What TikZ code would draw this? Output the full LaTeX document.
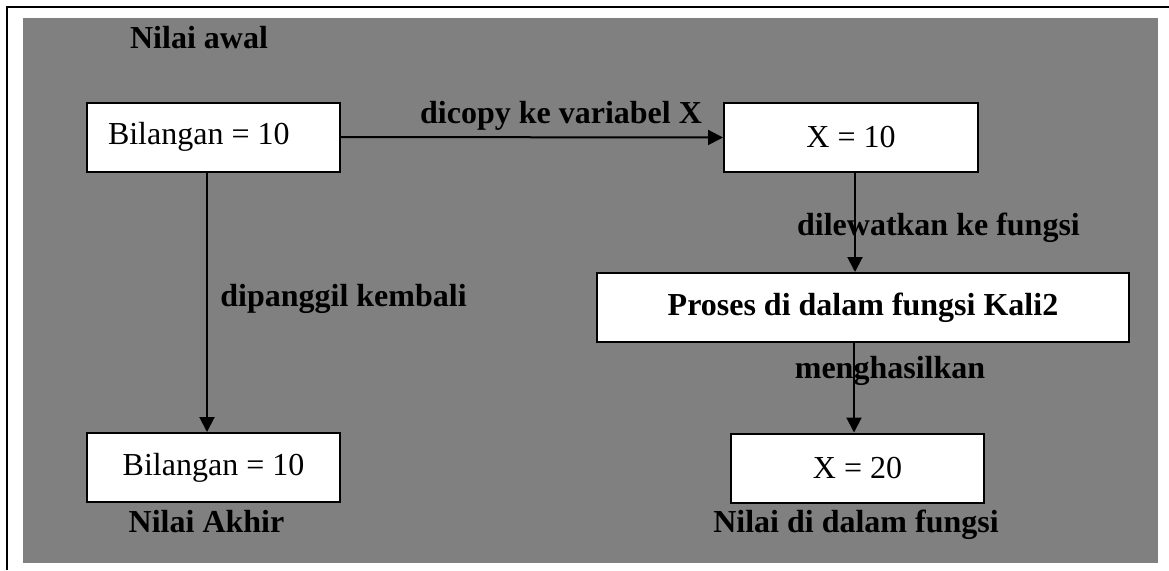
\documentclass[tikz,border=0pt]{standalone}
\usepackage{fontspec}
\setmainfont{Liberation Serif}
\usetikzlibrary{arrows.meta}

\begin{document}
\begin{tikzpicture}[
  x=1pt, y=-1pt,
  font=\fontsize{32}{38}\selectfont,
  value box/.style={draw, line width=2pt, fill=white, inner sep=0pt,
    minimum width=#1, minimum height=69pt},
  value box/.default=253pt,
  flow label/.style={anchor=base, font=\fontsize{32}{38}\selectfont\bfseries},
  flow arrow/.style={line width=2pt, -{Triangle[length=15pt,width=15pt]}},
]
% latar belakang
\useasboundingbox (0,0) rectangle (1169,570);
\fill[gray] (23,18) rectangle (1158,563);
\draw[line width=2pt] (7,570) -- (7,7) -- (1169,7);

% kotak nilai
\node[value box, inner xsep=21pt] (awal) at (213.5,137) {\makebox[211pt][l]{Bilangan = 10}};
\node[value box=254pt] (xcopy) at (851,137.5) {X = 10};
\node[value box=532pt, font=\fontsize{32}{38}\selectfont\bfseries] (proses) at (863,307.5) {Proses di dalam fungsi Kali2};
\node[value box] (xhasil) at (857.5,468) {X = 20};
\node[value box] (akhir) at (213.5,467.5) {Bilangan = 10};

% keterangan
\node[flow label] (lawal) at (199,48) {Nilai awal};
\node[flow label] (lcopy) at (561,123) {dicopy ke variabel X};
\node[flow label] (llewat) at (938.5,235) {dilewatkan ke fungsi};
\node[flow label] (lpanggil) at (343.5,306.5) {dipanggil kembali};
\node[flow label] (lhasil) at (890,378) {menghasilkan};
\node[flow label] (lakhir) at (206.5,532) {Nilai Akhir};
\node[flow label] (lfungsi) at (856,532) {Nilai di dalam fungsi};

% panah
\draw[flow arrow] (awal.east) -- (xcopy.west);
\draw[flow arrow] ([xshift=-6.5pt]awal.south) -- ([xshift=-6.5pt]akhir.north);
\draw[flow arrow] ([xshift=4pt]xcopy.south) -- ([xshift=4pt]xcopy.south |- proses.north);
\draw[flow arrow] ([xshift=-3.5pt]xhasil.north |- proses.south) -- ([xshift=-3.5pt]xhasil.north);
\end{tikzpicture}
\end{document}
